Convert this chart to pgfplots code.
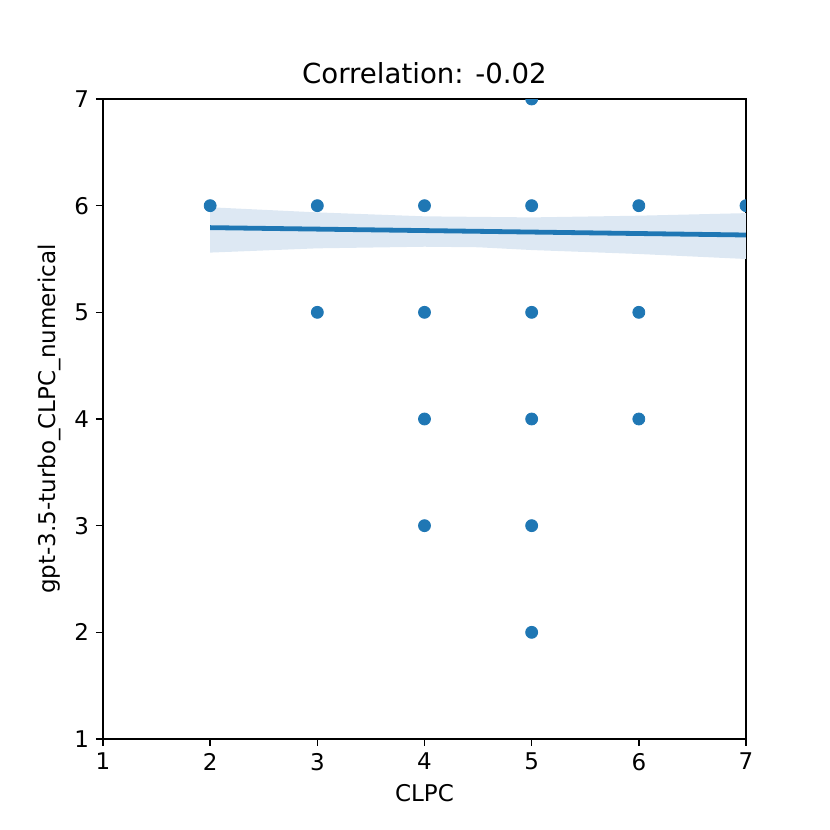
\documentclass[border=0pt]{standalone}
\usepackage{pgfplots}
\pgfplotsset{compat=1.18}
\usepackage{fontspec}
\setmainfont{DejaVu Sans}
\definecolor{cblue}{HTML}{1F77B4}
\definecolor{cband}{HTML}{DDE8F3}
\begin{document}
\begin{tikzpicture}
\path[use as bounding box] (0pt,0pt) rectangle (415pt,415pt);
\begin{axis}[
  at={(51.5pt,45.5pt)}, anchor=south west,
  scale only axis, width=321.5pt, height=320pt,
  xmin=1, xmax=7, ymin=1, ymax=7,
  xtick={1,...,7}, ytick={1,...,7},
  xtick pos=left, ytick pos=left,
  tick align=outside, major tick length=3.5pt,
  tick style={black, line width=0.8pt},
  axis line style={line width=0.8pt},
  /pgf/number format/assume math mode=true,
  tick label style={font=\fontsize{11.5}{13}\selectfont},
  label style={font=\fontsize{11.5}{13}\selectfont},
  xlabel={CLPC}, ylabel={gpt-3.5-turbo\_CLPC\_numerical},
  title={Correlation: -0.02},
  title style={font=\fontsize{13.8}{16}\selectfont, yshift=-2pt},
  clip marker paths=true,
]
\addplot[fill=cband, draw=none] coordinates {
 (2,5.985) (3,5.937) (4,5.90) (4.5,5.895) (5,5.89) (6,5.906) (7,5.93)
 (7,5.50) (6,5.547) (5,5.584) (4.5,5.61) (4,5.615) (3,5.60) (2,5.56)} -- cycle;
\addplot[only marks, mark=*, mark size=3pt, cblue, mark options={draw=none, fill=cblue}] coordinates {
 (2,6) (3,6) (3,5) (4,6) (4,5) (4,4) (4,3)
 (5,7) (5,6) (5,5) (5,4) (5,3) (5,2)
 (6,6) (6,5) (6,4) (7,6)};
\addplot[cblue, line width=2.4pt] coordinates {(2,5.794) (7,5.725)};
\end{axis}
\end{tikzpicture}
\end{document}
